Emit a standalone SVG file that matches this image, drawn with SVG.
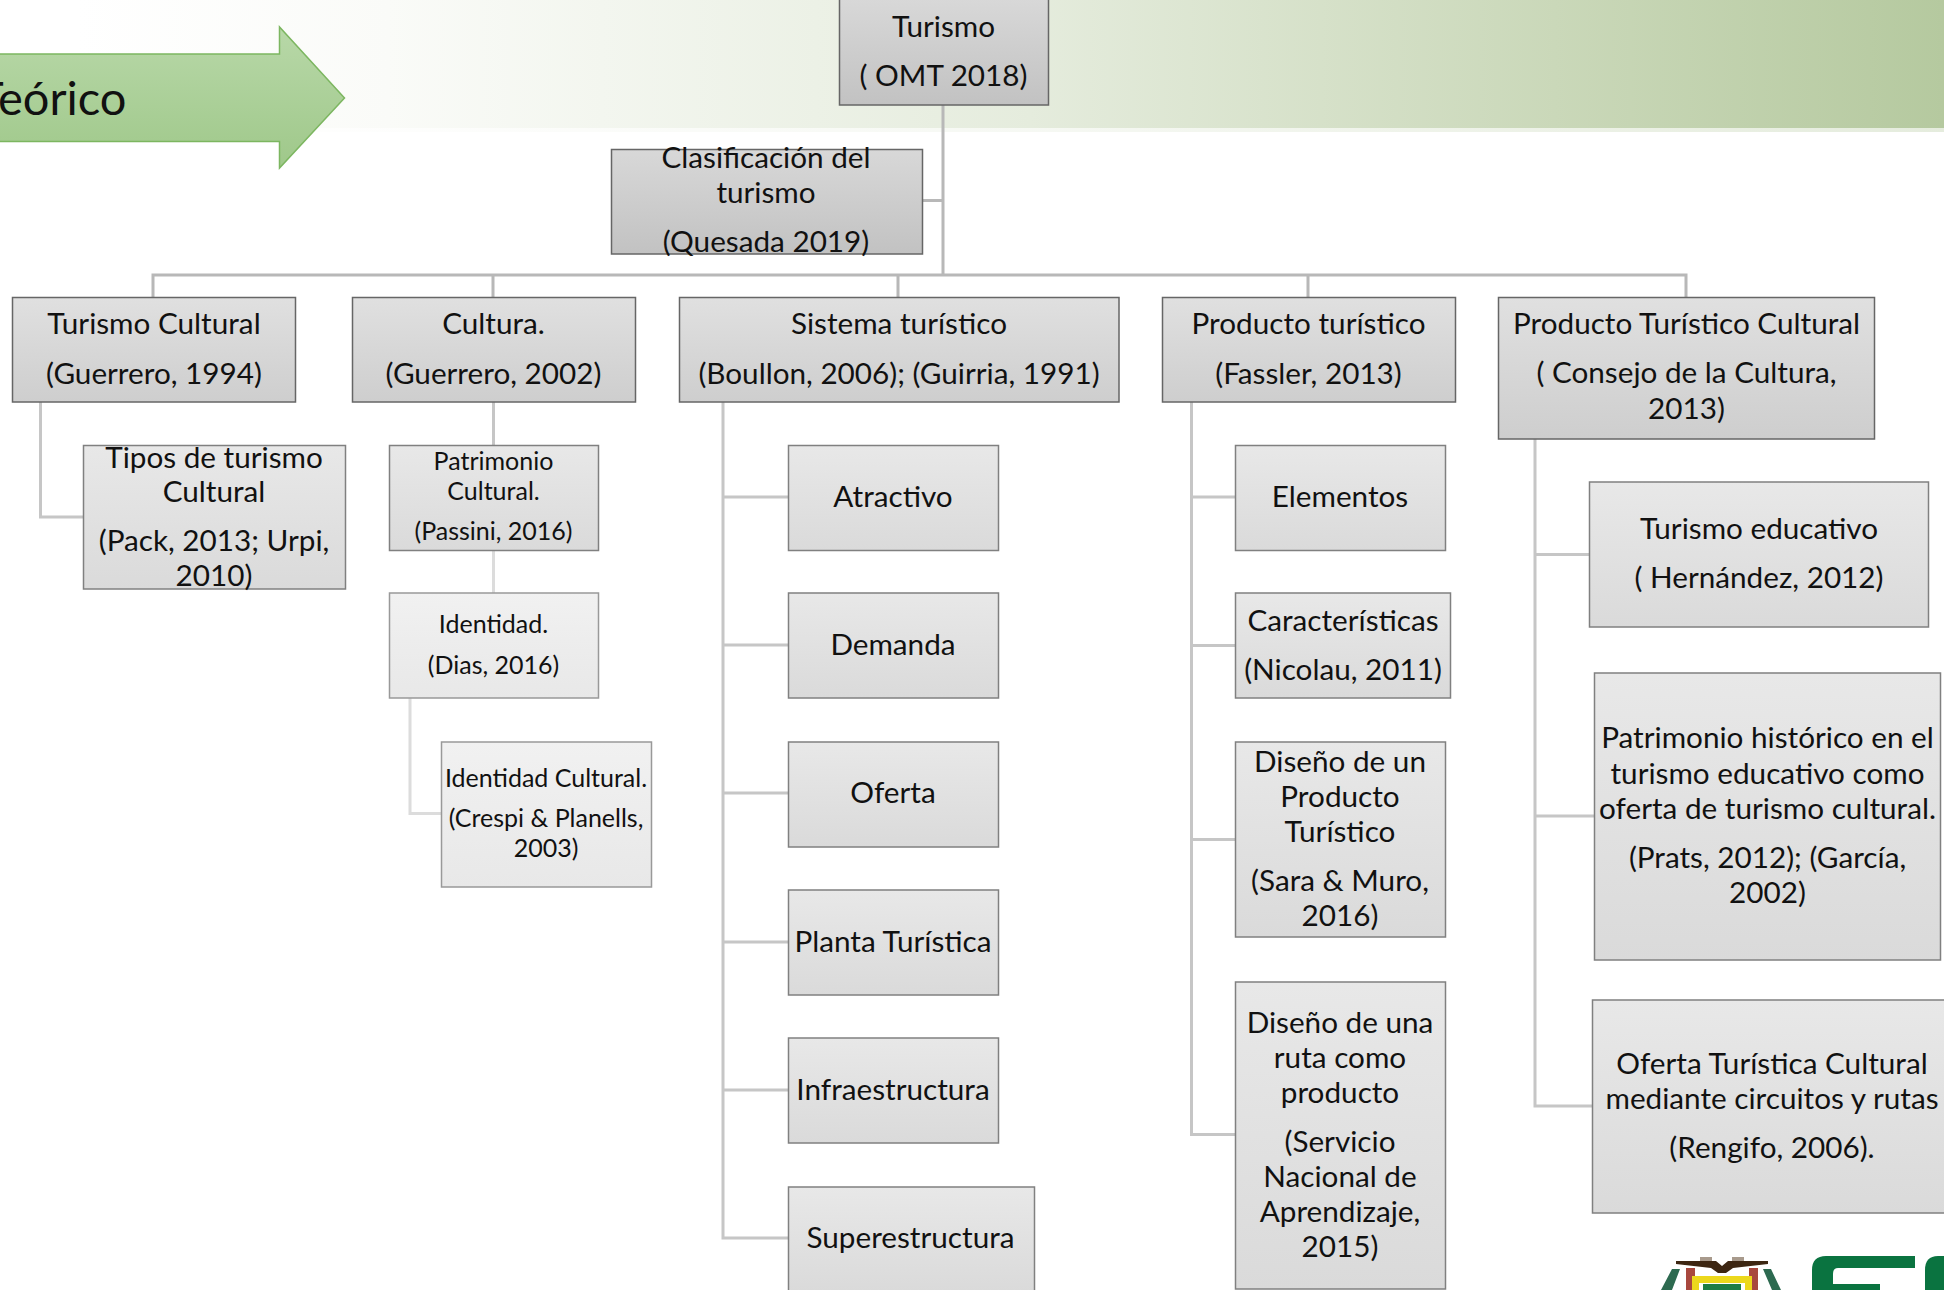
<svg xmlns="http://www.w3.org/2000/svg" width="1944" height="1290" viewBox="0 0 1944 1290">
<style>
text{font-family:Lato,"Open Sans","Liberation Sans",sans-serif;fill:#111;text-anchor:middle;font-size:29.7px}
.s{font-size:25px}
.n0{fill:url(#g0);stroke:#666;stroke-width:1.5}
.n1{fill:url(#g1);stroke:#666;stroke-width:1.5}
.n2{fill:url(#g2);stroke:#808080;stroke-width:1.5}
.n3{fill:url(#g3);stroke:#999;stroke-width:1.5}
.c{fill:none;stroke:#c6c6c6;stroke-width:3}
.c2{fill:none;stroke:#dcdcdc;stroke-width:3}
.c0{fill:none;stroke:#b8b8b8;stroke-width:3}
</style>
<defs>
<linearGradient id="g0" x1="0" y1="0" x2="0" y2="1"><stop offset="0" stop-color="#d8d8d8"/><stop offset="1" stop-color="#c2c2c2"/></linearGradient>
<linearGradient id="g1" x1="0" y1="0" x2="0" y2="1"><stop offset="0" stop-color="#e0e0e0"/><stop offset="1" stop-color="#cecece"/></linearGradient>
<linearGradient id="g2" x1="0" y1="0" x2="0" y2="1"><stop offset="0" stop-color="#e8e8e8"/><stop offset="1" stop-color="#dadada"/></linearGradient>
<linearGradient id="g3" x1="0" y1="0" x2="0" y2="1"><stop offset="0" stop-color="#f1f1f1"/><stop offset="1" stop-color="#e8e8e8"/></linearGradient>
<linearGradient id="band" gradientUnits="userSpaceOnUse" x1="0" y1="0" x2="1944" y2="0"><stop offset="0.04" stop-color="#ffffff"/><stop offset="0.2" stop-color="#fafbf8"/><stop offset="0.53" stop-color="#e5ecdd"/><stop offset="0.8" stop-color="#cad8b9"/><stop offset="1" stop-color="#b5c99f"/></linearGradient>
<linearGradient id="arr" x1="0" y1="0" x2="0" y2="1"><stop offset="0" stop-color="#b8d8a8"/><stop offset="1" stop-color="#9fc88a"/></linearGradient>
</defs>
<g id="background">
<rect x="0" y="0" width="1944" height="132" fill="url(#band)" opacity="0.35"/>
<rect x="0" y="0" width="1944" height="128" fill="url(#band)"/>
</g>
<g id="arrow">
<path d="M-2 54H279.500V27L344.500 98 279.500 168V141.500H-2Z" fill="url(#arr)" stroke="#7cb660" stroke-width="1.5"/>
<text x="126.500" y="115" style="text-anchor:end;font-size:47px">Teórico</text>
</g>
<g id="connectors">
<path class="c0" d="M943 105V275M922 200.500H943M153 297V275H1686V297M493 275V297M898 275V297M1308 275V297"/>
<path class="c" d="M40.500 402V517H83.500"/>
<path class="c" d="M493.500 402V445.500"/>
<path class="c2" d="M493.500 550.500V593"/>
<path class="c2" d="M410 698V813.500H441.500"/>
<path class="c" d="M723 402V1238H788M723 497H788M723 645H788M723 793H788M723 942H788M723 1090H788"/>
<path class="c" d="M1191.500 402V1134.500H1235M1191.500 497H1235M1191.500 645.500H1235M1191.500 839.500H1235"/>
<path class="c" d="M1535 439V1106H1592.500M1535 554.500H1589.500M1535 816H1594.500"/>
</g>
<g id="n-turismo"><rect class="n0" x="839.500" y="-1" width="209" height="106"/><text x="943.500" y="37">Turismo</text><text x="943.500" y="86">( OMT 2018)</text></g>
<g id="n-clasificacion"><rect class="n0" x="611.500" y="149.500" width="311" height="104.500"/><text x="766" y="168">Clasificación del</text><text x="766" y="203">turismo</text><text x="766" y="252">(Quesada 2019)</text></g>
<g id="n-turismo-cultural"><rect class="n1" x="12.500" y="297.500" width="283" height="104.500"/><text x="154" y="334">Turismo Cultural</text><text x="154" y="383.500">(Guerrero, 1994)</text></g>
<g id="n-cultura"><rect class="n1" x="352.500" y="297.500" width="283" height="104.500"/><text x="493.500" y="334">Cultura.</text><text x="493.500" y="383.500">(Guerrero, 2002)</text></g>
<g id="n-sistema"><rect class="n1" x="679.500" y="297.500" width="439.500" height="104.500"/><text x="899" y="334">Sistema turístico</text><text x="899" y="383.500">(Boullon, 2006); (Guirria, 1991)</text></g>
<g id="n-producto"><rect class="n1" x="1162.500" y="297.500" width="293" height="104.500"/><text x="1308.500" y="334">Producto turístico</text><text x="1308.500" y="383.500">(Fassler, 2013)</text></g>
<g id="n-ptc"><rect class="n1" x="1498.500" y="297.500" width="376" height="141.500"/><text x="1686.500" y="334">Producto Turístico Cultural</text><text x="1686.500" y="383">( Consejo de la Cultura,</text><text x="1686.500" y="418.500">2013)</text></g>
<g id="n-tipos"><rect class="n2" x="83.500" y="445.500" width="262" height="143.500"/><text x="214" y="467.500">Tipos de turismo</text><text x="214" y="502">Cultural</text><text x="214" y="551">(Pack, 2013; Urpi,</text><text x="214" y="586">2010)</text></g>
<g id="n-patrimonio"><rect class="n2" x="389.500" y="445.500" width="209" height="105"/><text class="s" x="493.500" y="470">Patrimonio</text><text class="s" x="493.500" y="500">Cultural.</text><text class="s" x="493.500" y="540">(Passini, 2016)</text></g>
<g id="n-identidad"><rect class="n3" x="389.500" y="593" width="209" height="105"/><text class="s" x="493.500" y="633">Identidad.</text><text class="s" x="493.500" y="674">(Dias, 2016)</text></g>
<g id="n-identidad-cultural"><rect class="n3" x="441.500" y="742" width="210" height="145"/><text class="s" x="546" y="787">Identidad Cultural.</text><text class="s" x="546" y="827">(Crespi &amp; Planells,</text><text class="s" x="546" y="857">2003)</text></g>
<g id="n-atractivo"><rect class="n2" x="788.500" y="445.500" width="210" height="105"/><text x="893" y="507">Atractivo</text></g>
<g id="n-demanda"><rect class="n2" x="788.500" y="593" width="210" height="105"/><text x="893" y="655">Demanda</text></g>
<g id="n-oferta"><rect class="n2" x="788.500" y="742" width="210" height="105"/><text x="893" y="803">Oferta</text></g>
<g id="n-planta"><rect class="n2" x="788.500" y="890" width="210" height="105"/><text x="893" y="952">Planta Turística</text></g>
<g id="n-infra"><rect class="n2" x="788.500" y="1038" width="210" height="105"/><text x="893" y="1100">Infraestructura</text></g>
<g id="n-super"><rect class="n2" x="788.500" y="1187" width="246" height="105"/><text x="910.500" y="1248">Superestructura</text></g>
<g id="n-elementos"><rect class="n2" x="1235.500" y="445.500" width="210" height="105"/><text x="1340" y="507">Elementos</text></g>
<g id="n-caracteristicas"><rect class="n2" x="1235.500" y="593" width="215" height="105"/><text x="1343" y="631">Características</text><text x="1343" y="680">(Nicolau, 2011)</text></g>
<g id="n-diseno-producto"><rect class="n2" x="1235.500" y="742" width="210" height="195"/><text x="1340" y="771.500">Diseño de un</text><text x="1340" y="806.500">Producto</text><text x="1340" y="841.500">Turístico</text><text x="1340" y="891">(Sara &amp; Muro,</text><text x="1340" y="926">2016)</text></g>
<g id="n-diseno-ruta"><rect class="n2" x="1235.500" y="982" width="210" height="307"/><text x="1340" y="1032.500">Diseño de una</text><text x="1340" y="1067.500">ruta como</text><text x="1340" y="1102.500">producto</text><text x="1340" y="1151.500">(Servicio</text><text x="1340" y="1186.500">Nacional de</text><text x="1340" y="1221.500">Aprendizaje,</text><text x="1340" y="1256.500">2015)</text></g>
<g id="n-educativo"><rect class="n2" x="1589.500" y="482" width="339" height="145"/><text x="1759" y="539">Turismo educativo</text><text x="1759" y="587.500">( Hernández, 2012)</text></g>
<g id="n-historico"><rect class="n2" x="1594.500" y="673" width="346" height="287"/><text x="1767.500" y="748">Patrimonio histórico en el</text><text x="1767.500" y="783.500">turismo educativo como</text><text x="1767.500" y="818.500">oferta de turismo cultural.</text><text x="1767.500" y="868">(Prats, 2012); (García,</text><text x="1767.500" y="902.500">2002)</text></g>
<g id="n-oferta-cultural"><rect class="n2" x="1592.500" y="1000" width="360" height="213"/><text x="1772" y="1073.500">Oferta Turística Cultural</text><text x="1772" y="1108.500">mediante circuitos y rutas</text><text x="1772" y="1158">(Rengifo, 2006).</text></g>
<g id="logo">
<path d="M1676 1261H1716L1722 1266 1728 1261H1768V1264L1733 1268 1726 1273H1718L1711 1268 1676 1264Z" fill="#3d2612"/>
<path d="M1700 1257H1712V1261H1700ZM1732 1257H1744V1261H1732Z" fill="#a89a8c"/>
<path d="M1686 1268H1695V1290H1686ZM1749 1268H1758V1290H1749Z" fill="#a8483e"/>
<path d="M1692 1276H1752V1290H1745V1283H1699V1290H1692Z" fill="#ecd81c"/>
<path d="M1703 1284H1741V1290H1703Z" fill="#1e7d45"/>
<path d="M1672 1269L1680 1269 1672 1290H1661ZM1763 1269L1771 1269 1781 1290H1772Z" fill="#2d6a50"/>
<path d="M1812 1290V1270Q1812 1256 1826 1256H1915V1268H1838Q1833 1268 1833 1274V1284H1880V1290Z" fill="#0a7340"/>
<path d="M1944 1256H1938Q1925 1256 1925 1270V1290H1944Z" fill="#0a7340"/>
</g>
</svg>
